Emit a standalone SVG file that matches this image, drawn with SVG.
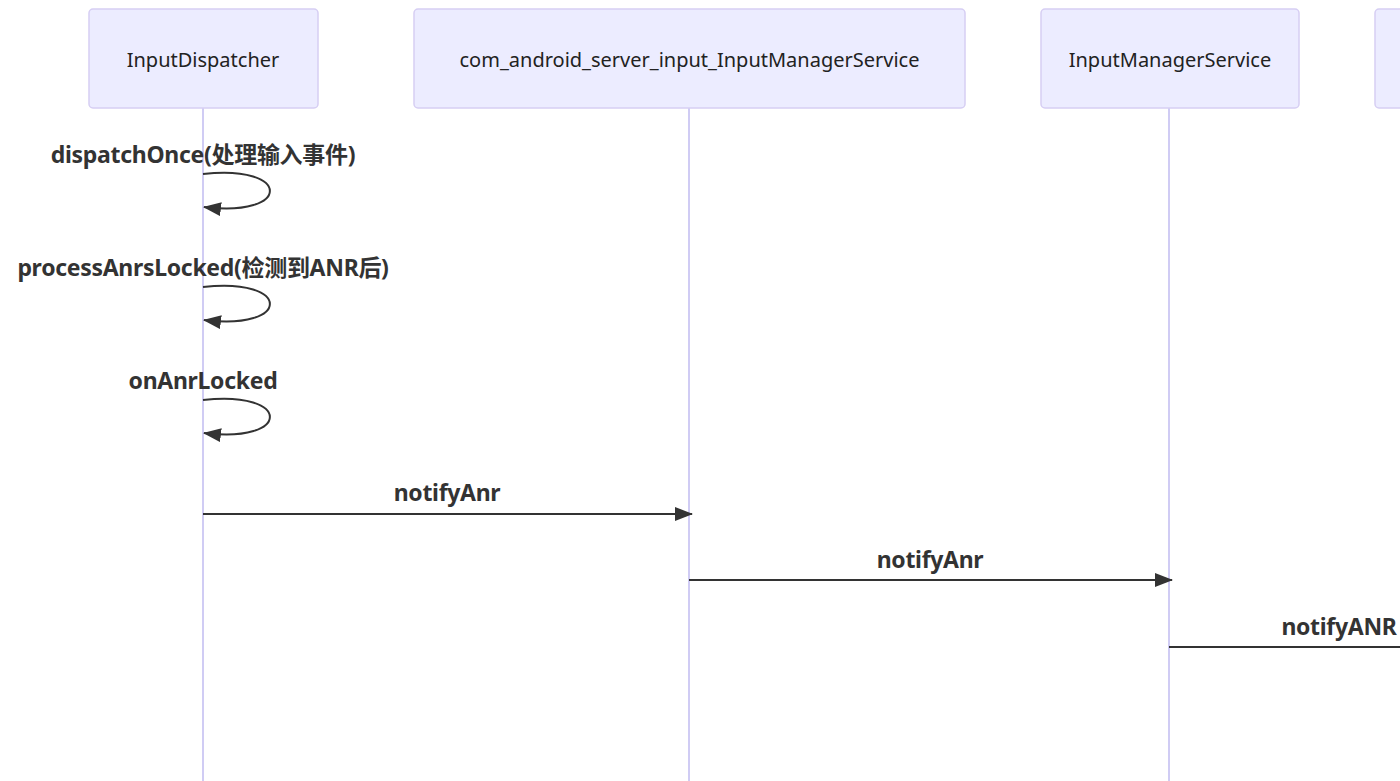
<svg xmlns="http://www.w3.org/2000/svg" width="1400" height="781" viewBox="0 0 1400 781">
<style>
.actor{fill:#ececff;stroke:#d6cef3;stroke-width:1.5}
.atext{font-family:"Noto Sans","Open Sans",sans-serif;font-size:20px;fill:#222;text-anchor:middle;dominant-baseline:central}
.life{stroke:#d0ccf4;stroke-width:2}
.msg{stroke:#333;stroke-width:2;fill:none}
.mtext{font-family:"Noto Sans","Noto Sans CJK SC",sans-serif;font-size:23px;font-weight:bold;fill:#333;text-anchor:middle;letter-spacing:-0.3px}
</style>
<defs>
<marker id="arrL" viewBox="0 0 18 14" refX="17" refY="7" markerWidth="18" markerHeight="14" markerUnits="userSpaceOnUse" orient="auto">
<path d="M0,0 L18,7 L0,14 z" fill="#333"/>
</marker>
</defs>
<rect width="1400" height="781" fill="#fff"/>
<g id="lifelines">
<line class="life" x1="203" y1="108" x2="203" y2="781"/>
<line class="life" x1="689" y1="108" x2="689" y2="781"/>
<line class="life" x1="1169" y1="108" x2="1169" y2="781"/>
</g>
<g id="InputDispatcher">
<rect class="actor" x="89" y="9" width="229" height="99" rx="4"/>
<text class="atext" x="203" y="59">InputDispatcher</text>
</g>
<g id="com_android_server_input_InputManagerService">
<rect class="actor" x="414" y="9" width="551" height="99" rx="4"/>
<text class="atext" x="689.5" y="59">com_android_server_input_InputManagerService</text>
</g>
<g id="InputManagerService">
<rect class="actor" x="1041" y="9" width="258" height="99" rx="4"/>
<text class="atext" x="1170" y="59">InputManagerService</text>
</g>
<g id="ActorCut">
<rect class="actor" x="1375" y="9" width="60" height="99" rx="4"/>
</g>
<g id="connectors">
<path class="msg" d="M203,174 C292,164 292,218 204,207" marker-end="url(#arrL)"/>
<path class="msg" d="M203,287 C292,277 292,331 204,320" marker-end="url(#arrL)"/>
<path class="msg" d="M203,400 C292,390 292,444 204,433" marker-end="url(#arrL)"/>
<line class="msg" x1="203" y1="514" x2="692" y2="514" marker-end="url(#arrL)"/>
<line class="msg" x1="689" y1="580" x2="1172" y2="580" marker-end="url(#arrL)"/>
<line class="msg" x1="1169" y1="647" x2="1400" y2="647"/>
</g>
<g id="labels">
<text class="mtext" x="203" y="163">dispatchOnce(处理输入事件)</text>
<text class="mtext" x="203" y="276">processAnrsLocked(检测到ANR后)</text>
<text class="mtext" x="203" y="389">onAnrLocked</text>
<text class="mtext" x="447" y="501">notifyAnr</text>
<text class="mtext" x="930" y="568">notifyAnr</text>
<text class="mtext" x="1339" y="635">notifyANR</text>
</g>
</svg>
